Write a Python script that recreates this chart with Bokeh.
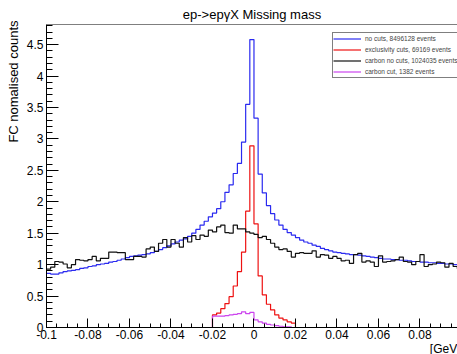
import numpy as np
from bokeh.plotting import figure
from bokeh.models import (FixedTicker, PrintfTickFormatter, Span, Legend,
                          LegendItem, Range1d, Title)
from bokeh.embed import file_html
from bokeh.resources import INLINE

# ---------------- data ----------------
x_low, x_high, n_bins = -0.1, 0.1, 100

no_cuts = [0.86, 0.85, 0.85, 0.87, 0.89, 0.90, 0.91, 0.92, 0.94, 0.95,
           0.97, 0.98, 1.00, 1.01, 1.02, 1.04, 1.05, 1.07, 1.09, 1.11,
           1.13, 1.14, 1.15, 1.16, 1.17, 1.19, 1.21, 1.24, 1.27, 1.30,
           1.33, 1.36, 1.39, 1.41, 1.45, 1.50, 1.56, 1.63, 1.69, 1.76,
           1.82, 1.89, 2.00, 2.15, 2.27, 2.45, 2.61, 2.95, 3.55, 4.58,
           3.33, 2.44, 2.14, 1.94, 1.81, 1.71, 1.63, 1.56, 1.51, 1.47,
           1.43, 1.39, 1.36, 1.34, 1.31, 1.29, 1.26, 1.24, 1.22, 1.20,
           1.19, 1.18, 1.17, 1.16, 1.16, 1.15, 1.14, 1.13, 1.12, 1.11,
           1.10, 1.09, 1.09, 1.08, 1.08, 1.07, 1.07, 1.06, 1.05, 1.05,
           1.04, 1.04, 1.03, 1.03, 1.02, 1.02, 1.01, 1.01, 1.00, 1.00]

exclusivity_cuts = ([0.0] * 40 +
                    [0.20, 0.23, 0.30, 0.38, 0.49, 0.66, 0.89, 1.20, 1.85, 2.89,
                     1.65, 0.82, 0.52, 0.37, 0.28, 0.20, 0.15, 0.12, 0.09, 0.07] +
                    [0.0] * 40)

carbon_no_cuts = [0.93, 0.96, 1.05, 1.04, 1.01, 0.95, 1.00, 1.08, 1.07, 1.06,
                  1.08, 1.13, 1.06, 1.10, 1.10, 1.20, 1.20, 1.19, 1.19, 1.08,
                  1.08, 1.13, 1.13, 1.12, 1.25, 1.28, 1.21, 1.34, 1.40, 1.28,
                  1.40, 1.34, 1.28, 1.43, 1.36, 1.46, 1.40, 1.47, 1.45, 1.55,
                  1.52, 1.60, 1.63, 1.51, 1.50, 1.63, 1.57, 1.57, 1.52, 1.50,
                  1.48, 1.43, 1.45, 1.40, 1.34, 1.28, 1.24, 1.25, 1.21, 1.12,
                  1.18, 1.19, 1.18, 1.18, 1.22, 1.12, 1.16, 1.15, 1.10, 1.13,
                  1.10, 1.06, 1.07, 1.02, 1.16, 1.18, 1.04, 1.06, 1.04, 0.97,
                  1.14, 1.04, 1.05, 1.06, 1.08, 1.12, 1.05, 1.04, 1.00, 1.05,
                  1.16, 0.97, 1.00, 1.01, 1.04, 1.03, 0.96, 1.02, 0.97, 0.94]

carbon_cut = ([0.0] * 40 +
              [0.18, 0.18, 0.18, 0.19, 0.20, 0.21, 0.22, 0.25, 0.22, 0.24,
               0.12, 0.09, 0.07, 0.05, 0.04, 0.03, 0.02, 0.01, 0.01, 0.0] +
              [0.0] * 40)

legend_labels = ["no cuts, 8496128 events",
                 "exclusivity cuts, 69169 events",
                 "carbon no cuts, 1024035 events",
                 "carbon cut, 1382 events"]

x_major_ticks = [-0.1, -0.08, -0.06, -0.04, -0.02, 0.0, 0.02, 0.04, 0.06, 0.08, 0.1]
y_major_ticks = [0, 0.5, 1, 1.5, 2, 2.5, 3, 3.5, 4, 4.5]

# ---------------- plot ----------------
edges = np.linspace(x_low, x_high, n_bins + 1)


def step_y(v):
    return list(v) + [v[-1]]


FONT = "Liberation Sans"

p = figure(width=457, height=354, output_backend="svg", toolbar_location=None,
           x_range=Range1d(-0.1, 0.0981), y_range=Range1d(0, 4.82),
           min_border_left=45, min_border_right=0, min_border_top=24,
           min_border_bottom=27)
p.background_fill_color = "white"
p.border_fill_color = "white"
p.grid.visible = False
p.outline_line_color = None

colors = ["#2a2af0", "#ee1111", "#111111", "#cc44ee"]
series = [no_cuts, exclusivity_cuts, carbon_no_cuts, carbon_cut]
renderers = []
for vals, c in zip(series, colors):
    r = p.step(x=edges, y=step_y(vals), mode="after", line_color=c, line_width=1.2)
    renderers.append(r)

p.add_layout(Span(location=4.82, dimension="width", line_color="black", line_width=1))

# axes
p.xaxis.ticker = FixedTicker(ticks=x_major_ticks,
                             minor_ticks=list(np.round(np.arange(-0.1, 0.1001, 0.005), 4)))
p.yaxis.ticker = FixedTicker(ticks=y_major_ticks,
                             minor_ticks=list(np.round(np.arange(0, 4.81, 0.1), 2)))
for ax in (p.xaxis, p.yaxis):
    ax.formatter = PrintfTickFormatter(format="%g")
    ax.major_label_text_font = FONT
    ax.major_label_text_font_size = "12px"
    ax.major_label_text_color = "black"
    ax.axis_line_color = "black"
    ax.major_tick_line_color = "black"
    ax.minor_tick_line_color = "black"
    ax.major_tick_out = 0
    ax.minor_tick_out = 0
p.xaxis.major_tick_in = 9
p.xaxis.minor_tick_in = 4
p.yaxis.major_tick_in = 12
p.yaxis.minor_tick_in = 6
p.xaxis.major_label_standoff = 2
p.yaxis.major_label_standoff = 3

# titles
p.title.text = "ep->epγX Missing mass"
p.title.align = "center"
p.title.text_font = FONT
p.title.text_font_size = "13px"
p.title.text_font_style = "normal"
p.title.text_color = "black"
p.title.standoff = 6

p.add_layout(Title(text="FC nomalised counts", align="right", text_font=FONT,
                   text_font_size="13px", text_font_style="normal",
                   text_color="black", standoff=6, offset=-4), "left")
p.add_layout(Title(text="[GeV²]", align="right", text_font=FONT,
                   text_font_size="12px", text_font_style="normal",
                   text_color="black", standoff=-3, offset=-7), "below")

legend = Legend(items=[LegendItem(label=l, renderers=[r])
                       for l, r in zip(legend_labels, renderers)],
                location=(286, 249), padding=0, spacing=0, margin=0,
                glyph_height=11, glyph_width=28, label_height=11,
                label_standoff=4, label_text_font=FONT,
                label_text_font_size="6.5px", border_line_color="black",
                border_line_width=1, background_fill_color="white",
                background_fill_alpha=1)
p.add_layout(legend)

open("out.html", "w").write(file_html(p, INLINE))
